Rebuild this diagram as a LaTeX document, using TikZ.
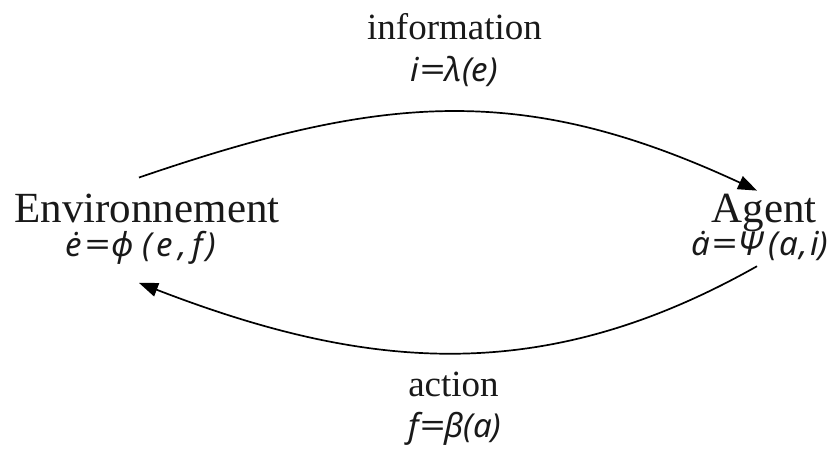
\documentclass[tikz,border=0pt]{standalone}
\usepackage{fontspec}
\usepackage{graphicx}
\setmainfont{Liberation Serif}
\newfontfamily\mathfam{Noto Sans}
\newcommand{\wideeq}{\scalebox{1.35}[1]{=}}
\usetikzlibrary{arrows.meta}
\begin{document}
\begin{tikzpicture}[x=1pt,y=1pt,
  every node/.style={inner sep=0pt, outer sep=0pt, text=black!90},
  big/.style={font=\fontsize{43}{50}\selectfont},
  lbl/.style={font=\fontsize{37}{44}\selectfont},
  eq/.style={font=\mathfam\itshape\fontsize{33}{40}\selectfont},
  conn/.style={line width=1.7pt, -{Triangle[length=19pt,width=14pt]}}]
\useasboundingbox (0,0) rectangle (830,450);
\node[big, anchor=base] (env) at (147,227) {Environnement};
\node[eq, anchor=base] (enveq) at (141,193) {ė\kern2pt\wideeq\kern2pt ϕ\kern9pt(\kern4pt e\kern6pt,\kern5pt f\kern4pt)};
\node[big, anchor=base] (agent) at (764,227) {Agent};
\node[eq, anchor=base] (agenteq) at (760,194) {ȧ\kern1pt\wideeq\kern1pt Ψ\kern4pt(\kern1pt a\kern2pt,\kern2pt i)};
\node[lbl, anchor=base] (info) at (454.5,410) {information};
\node[eq, anchor=base] (infoeq) at (454.5,368) {i\wideeq λ(e)};
\node[lbl, anchor=base] (act) at (453.5,53) {action};
\node[eq, anchor=base] (acteq) at (455,13) {f\wideeq β(a)};
\draw[conn] ([shift={(-8,17)}]env.north) .. controls (383,356) and (523,368) .. ([shift={(-7,4)}]agent.north);
\draw[conn] ([shift={(-3,-5)}]agenteq.south) .. controls (543,63) and (367,79) .. ([shift={(-2,-18)}]enveq.south);
\end{tikzpicture}
\end{document}
